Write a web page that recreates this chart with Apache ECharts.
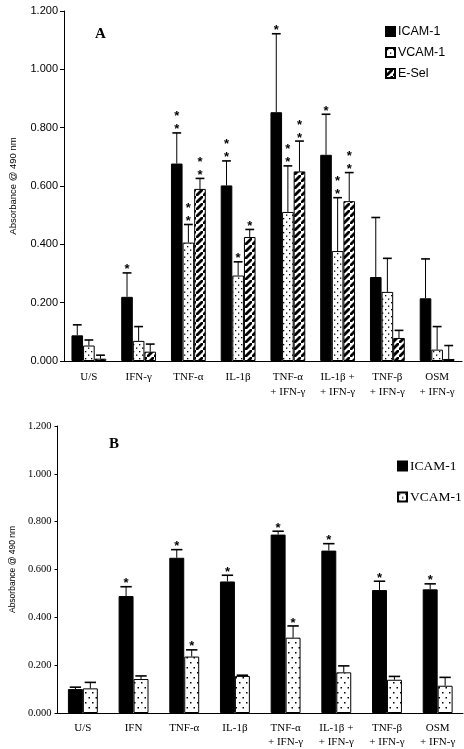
<!DOCTYPE html>
<html><head><meta charset="utf-8">
<script src="https://cdn.jsdelivr.net/npm/echarts@6/dist/echarts.min.js"></script>
<style>html,body{margin:0;padding:0;background:#fff}#c{width:464px;height:749px}</style>
</head><body><div id="c"></div>
<script>
// ---------- DATA ----------
const categoriesA = ['U/S', 'IFN-γ', 'TNF-α', 'IL-1β', 'TNF-α\n+ IFN-γ', 'IL-1β +\n+ IFN-γ', 'TNF-β\n+ IFN-γ', 'OSM\n+ IFN-γ'];
const icamA     = [0.088, 0.220, 0.677, 0.602, 0.853, 0.707, 0.288, 0.215];
const icamAErr  = [0.124, 0.302, 0.782, 0.686, 1.122, 0.846, 0.492, 0.350];
const icamAStar = [0, 1, 2, 2, 1, 1, 0, 0];
const vcamA     = [0.053, 0.069, 0.406, 0.293, 0.511, 0.377, 0.237, 0.039];
const vcamAErr  = [0.072, 0.118, 0.468, 0.340, 0.669, 0.560, 0.352, 0.118];
const vcamAStar = [0, 0, 2, 1, 2, 2, 0, 0];
const eselA     = [0.008, 0.032, 0.590, 0.425, 0.650, 0.548, 0.079, 0.007];
const eselAErr  = [0.020, 0.058, 0.626, 0.451, 0.754, 0.646, 0.105, 0.053];
const eselAStar = [0, 0, 2, 1, 2, 2, 0, 0];

const categoriesB = ['U/S', 'IFN', 'TNF-α', 'IL-1β', 'TNF-α\n+ IFN-γ', 'IL-1β +\n+ IFN-γ', 'TNF-β\n+ IFN-γ', 'OSM\n+ IFN-γ'];
const icamB     = [0.100, 0.489, 0.649, 0.550, 0.746, 0.679, 0.514, 0.517];
const icamBErr  = [0.108, 0.528, 0.683, 0.576, 0.760, 0.708, 0.551, 0.540];
const icamBStar = [0, 1, 1, 1, 1, 1, 1, 1];
const vcamB     = [0.103, 0.142, 0.236, 0.155, 0.315, 0.170, 0.139, 0.114];
const vcamBErr  = [0.128, 0.155, 0.264, 0.158, 0.364, 0.197, 0.153, 0.149];
const vcamBStar = [0, 0, 1, 0, 1, 0, 0, 0];

const yTicks = [0, 0.2, 0.4, 0.6, 0.8, 1.0, 1.2];
const yLabel = 'Absorbance @ 490 nm';

// ---------- PATTERNS ----------
function dots(w, h, pts, r) {
  const c = document.createElement('canvas'); c.width = w; c.height = h;
  const g = c.getContext('2d'); g.fillStyle = '#fff'; g.fillRect(0, 0, w, h);
  g.fillStyle = '#000';
  pts.forEach(p => { g.fillRect(p[0], p[1], r, r); });
  return c;
}
function stripes(s, lw) {
  const c = document.createElement('canvas'); c.width = s; c.height = s;
  const g = c.getContext('2d'); g.fillStyle = '#fff'; g.fillRect(0, 0, s, s);
  g.strokeStyle = '#000'; g.lineWidth = lw;
  [[-s, s * 2, s * 2, -s], [-s * 2, s, s, -s * 2], [0, s * 3, s * 3, 0]].forEach(l => {
    g.beginPath(); g.moveTo(l[0], l[1]); g.lineTo(l[2], l[3]); g.stroke();
  });
  return c;
}
const patDotsA = { image: dots(6, 7, [[1, 1], [4, 4.5]], 1.3), repeat: 'repeat' };
const patDotsB = { image: dots(7, 10, [[1, 2], [4.5, 7]], 1.5), repeat: 'repeat' };
const patStripe = { image: stripes(7, 2.8), repeat: 'repeat' };

// ---------- HELPERS ----------
function errSeries(name, vals, errs, stars, k, n, gap, axis, starFont, starStep) {
  return {
    type: 'custom', name: name + ' err', xAxisIndex: axis, yAxisIndex: axis, z: 5, silent: true,
    data: vals.map((v, i) => [i, v, errs[i], stars[i]]),
    renderItem: function (params, api) {
      const i = api.value(0);
      const base = api.coord([i, api.value(1)]);
      const top = api.coord([i, api.value(2)]);
      const band = api.size([1, 0])[0];
      const bw = band * (1 - gap) / n;
      const cx = base[0] + (k - (n - 1) / 2) * bw;
      const cap = bw * 0.38;
      const ch = [
        { type: 'line', shape: { x1: cx, y1: base[1], x2: cx, y2: top[1] }, style: { stroke: '#000', lineWidth: 1 } },
        { type: 'line', shape: { x1: cx - cap, y1: top[1], x2: cx + cap, y2: top[1] }, style: { stroke: '#000', lineWidth: 1.6 } }
      ];
      const ns = api.value(3);
      for (let s = 0; s < ns; s++) {
        ch.push({ type: 'text', x: cx, y: top[1] - 3 - s * starStep,
          style: { text: '*', font: starFont, fill: '#000', align: 'center', verticalAlign: 'middle' } });
      }
      return { type: 'group', children: ch };
    }
  };
}
function barSeries(name, vals, color, axis, gap) {
  return {
    type: 'bar', name: name, xAxisIndex: axis, yAxisIndex: axis, data: vals,
    barGap: 0, barCategoryGap: (gap * 100) + '%',
    itemStyle: { color: color, borderColor: '#000', borderWidth: 1 },
    emphasis: { disabled: true }
  };
}

const gapA = 0.30, gapB = 0.41;
const sansA = 'Liberation Sans', serif = 'Liberation Serif';
const starFont = 'bold 13px ' + sansA;

const option = {
  animation: false,
  title: [
    { text: 'A', left: 90, top: 22, textStyle: { fontFamily: serif, fontWeight: 'bold', fontSize: 15, color: '#000' } },
    { text: 'B', left: 104, top: 432, textStyle: { fontFamily: serif, fontWeight: 'bold', fontSize: 15, color: '#000' } }
  ],
  legend: [
    { data: ['ICAM-1', 'VCAM-1', 'E-Sel'], orient: 'vertical', left: 380, top: 20, itemWidth: 9, itemHeight: 9,
      itemGap: 8, selectedMode: false, icon: 'rect',
      textStyle: { fontFamily: sansA, fontSize: 12.5, color: '#000', padding: [0, 0, 0, -2] } },
    { data: ['ICAM-1', 'VCAM-1'], orient: 'vertical', left: 392, top: 454, itemWidth: 9, itemHeight: 9,
      itemGap: 17, selectedMode: false, icon: 'rect',
      textStyle: { fontFamily: serif, fontSize: 13.5, color: '#000', padding: [0, 0, 0, -2] } }
  ],
  grid: [
    { left: 59, top: 11, width: 403, height: 350 },
    { left: 55, top: 426, width: 408, height: 288 }
  ],
  xAxis: [
    { type: 'category', gridIndex: 0, data: categoriesA,
      axisLine: { lineStyle: { color: '#000' } }, axisTick: { length: 4, lineStyle: { color: '#000' } },
      axisLabel: { fontFamily: serif, fontSize: 11, color: '#000', margin: 9, lineHeight: 15, interval: 0 } },
    { type: 'category', gridIndex: 1, data: categoriesB,
      axisLine: { lineStyle: { color: '#000' } }, axisTick: { length: 3, lineStyle: { color: '#000' } },
      axisLabel: { fontFamily: serif, fontSize: 11, color: '#000', margin: 8, lineHeight: 14, interval: 0 } }
  ],
  yAxis: [
    { type: 'value', gridIndex: 0, min: yTicks[0], max: yTicks[yTicks.length - 1], interval: 0.2,
      name: yLabel, nameLocation: 'middle', nameGap: 46, nameTextStyle: { fontFamily: sansA, fontSize: 9.5, color: '#000' },
      splitLine: { show: false }, axisLine: { show: true, lineStyle: { color: '#000' } },
      axisTick: { show: true, length: 4, lineStyle: { color: '#000' } },
      axisLabel: { fontFamily: sansA, fontSize: 11, color: '#000', margin: 6, formatter: v => v.toFixed(3) } },
    { type: 'value', gridIndex: 1, min: yTicks[0], max: yTicks[yTicks.length - 1], interval: 0.2,
      name: yLabel, nameLocation: 'middle', nameGap: 40, nameTextStyle: { fontFamily: sansA, fontSize: 8.5, color: '#000' },
      splitLine: { show: false }, axisLine: { show: true, lineStyle: { color: '#000' } },
      axisTick: { show: true, length: 3, lineStyle: { color: '#000' } },
      axisLabel: { fontFamily: serif, fontSize: 10.5, color: '#000', margin: 6, formatter: v => v.toFixed(3) } }
  ],
  series: [
    barSeries('ICAM-1', icamA, '#000', 0, gapA),
    barSeries('VCAM-1', vcamA, patDotsA, 0, gapA),
    barSeries('E-Sel', eselA, patStripe, 0, gapA),
    errSeries('ICAM-1', icamA, icamAErr, icamAStar, 0, 3, gapA, 0, starFont, 13),
    errSeries('VCAM-1', vcamA, vcamAErr, vcamAStar, 1, 3, gapA, 0, starFont, 13),
    errSeries('E-Sel', eselA, eselAErr, eselAStar, 2, 3, gapA, 0, starFont, 13),
    barSeries('ICAM-1', icamB, '#000', 1, gapB),
    barSeries('VCAM-1', vcamB, patDotsB, 1, gapB),
    errSeries('ICAM-1', icamB, icamBErr, icamBStar, 0, 2, gapB, 1, starFont, 13),
    errSeries('VCAM-1', vcamB, vcamBErr, vcamBStar, 1, 2, gapB, 1, starFont, 13)
  ]
};
const chart = echarts.init(document.getElementById('c'), null, { renderer: 'canvas' });
chart.setOption(option);
</script></body></html>
